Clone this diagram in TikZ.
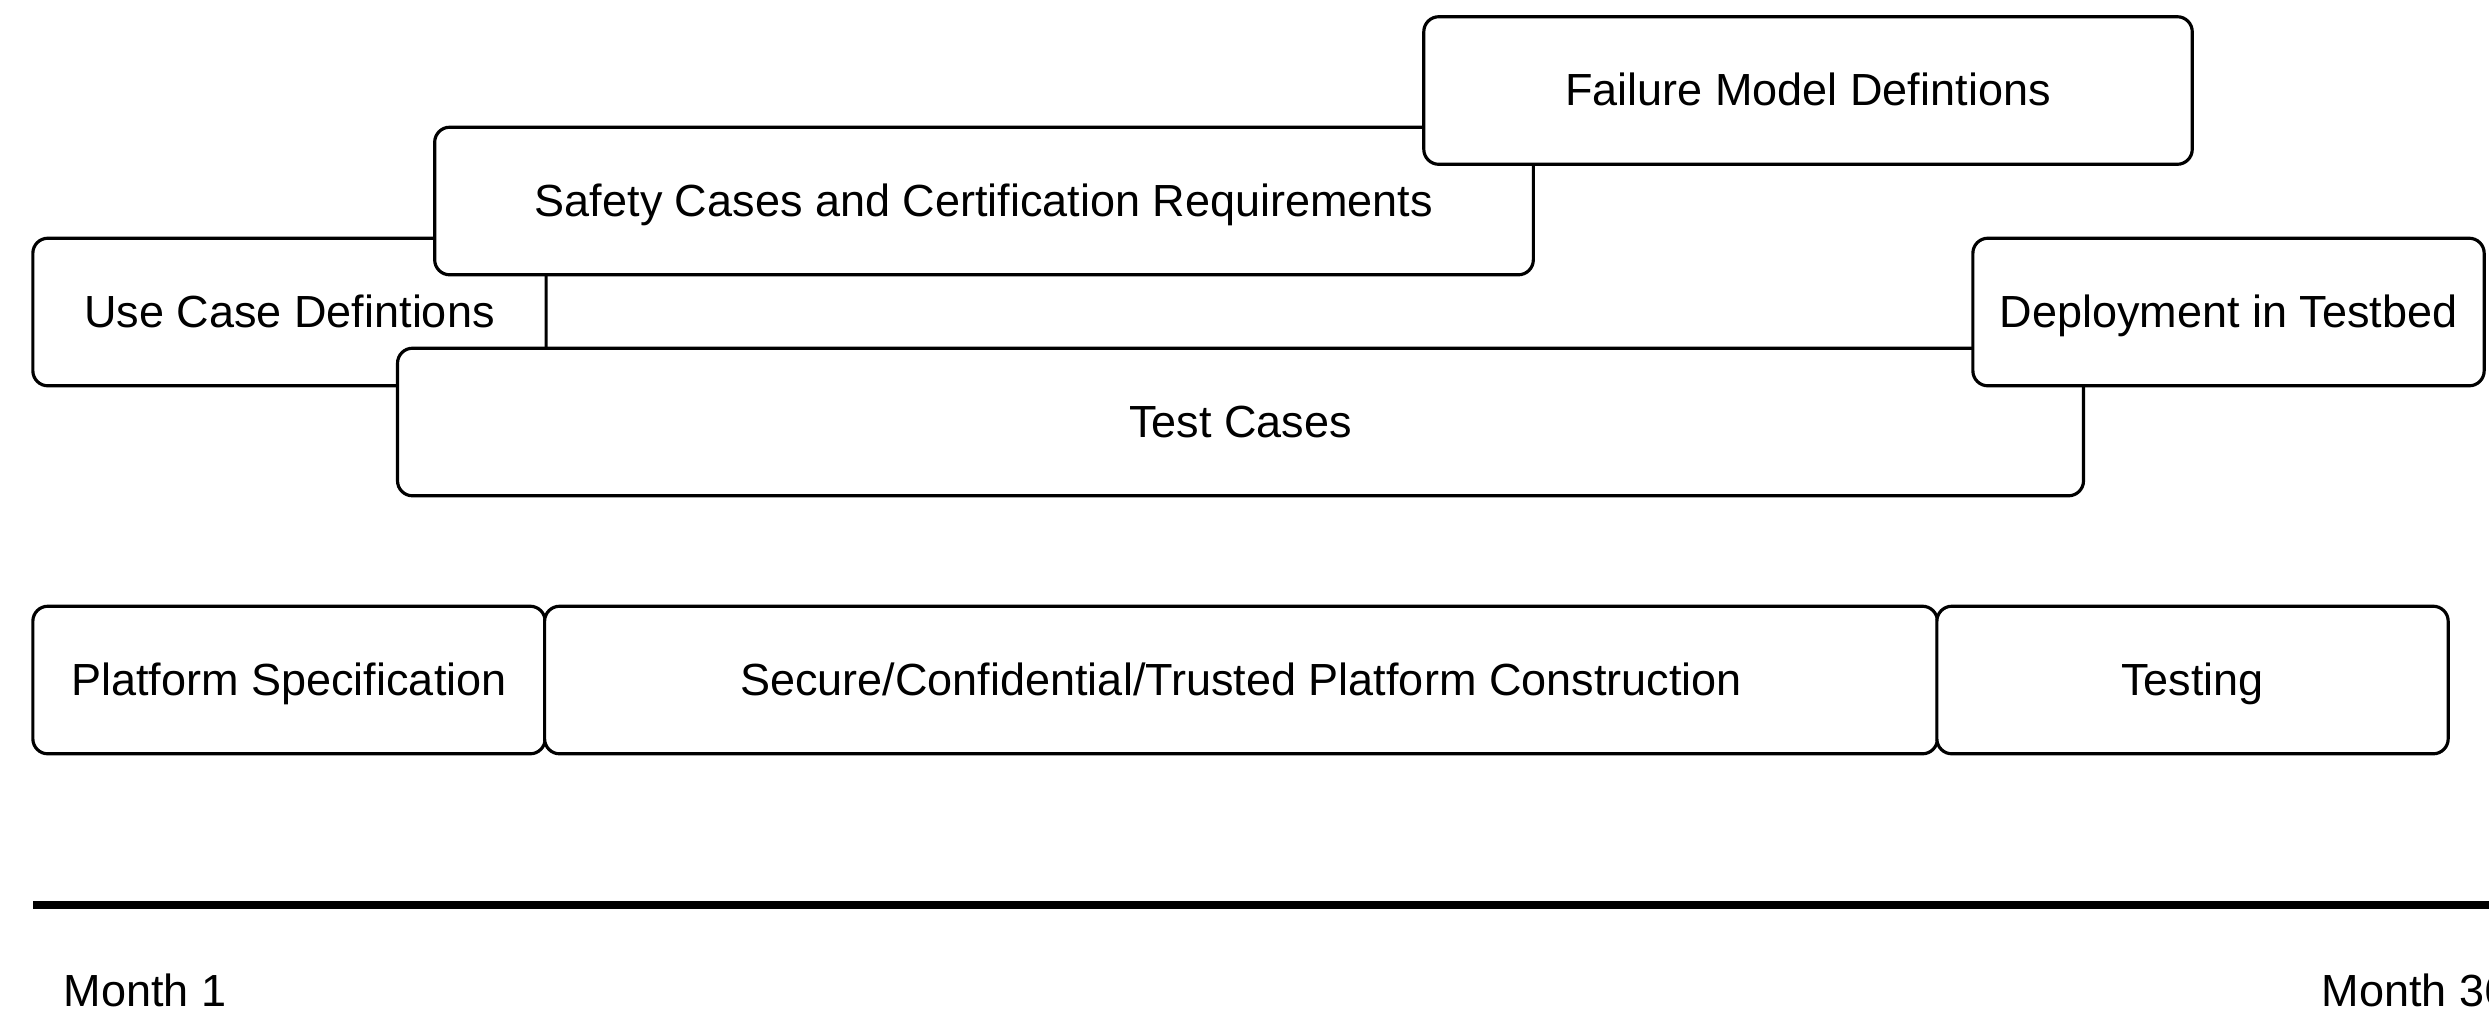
\documentclass[tikz,border=0pt]{standalone}
\usepackage{fontspec}
\setmainfont{Liberation Sans}
\begin{document}
\begin{tikzpicture}[x=0.01cm,y=-0.01cm,
  box/.style={draw=black,fill=white,line width=0.9pt,rounded corners=0.15cm,
    rectangle,inner sep=0pt,minimum height=1.475cm,text height=2.1ex,text depth=0.45ex,
    font=\fontsize{12.8}{14}\selectfont},
  monthlbl/.style={anchor=base west,inner sep=0pt,font=\fontsize{12.8}{14}\selectfont}]
\useasboundingbox (0,0) rectangle (2489,1011);
% upper layer, drawn back to front
\node[box,minimum width=5.13cm] (use) at (289.5,312) {Use Case Defintions};
\node[box,minimum width=10.98cm] (safety) at (984,201) {Safety Cases and Certification Requirements};
\node[box,minimum width=7.68cm] (failure) at (1808,90.5) {Failure Model Defintions};
\node[box,minimum width=16.85cm] (test) at (1240.5,422) {Test Cases};
\node[box,minimum width=5.11cm] (deploy) at (2228.5,312) {Deployment in Testbed};
% platform row
\node[box,minimum width=5.12cm] (spec) at (289,680) {Platform Specification};
\node[box,minimum width=13.92cm] (build) at (1241,680) {Secure/Confidential/Trusted Platform Construction};
\node[box,minimum width=5.11cm] (testing) at (2192.5,680) {Testing};
% timeline
\coordinate (tl0) at (33,905);
\coordinate (tl1) at (2500,905);
\draw[line width=2.1pt] (tl0) -- (tl1);
\node[monthlbl] (m1) at (63,1006) {Month 1};
\node[monthlbl] (m36) at (2321,1006) {Month 36};
\end{tikzpicture}
\end{document}
